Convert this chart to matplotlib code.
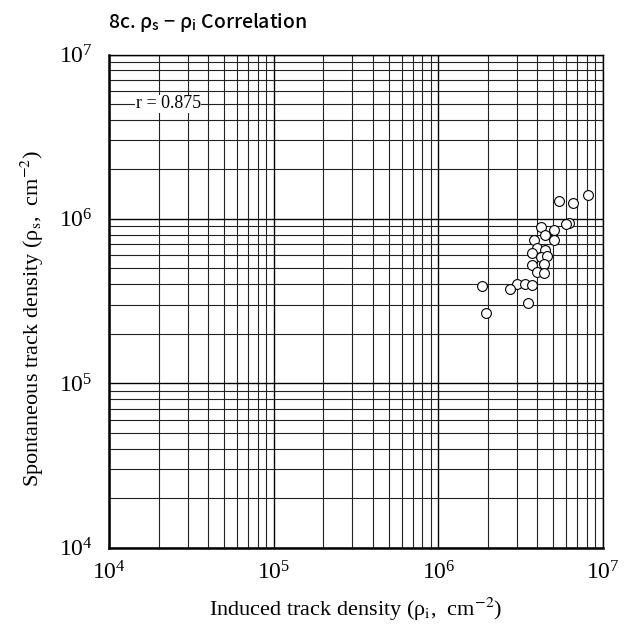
import numpy as np
import matplotlib
matplotlib.use("Agg")
import matplotlib.pyplot as plt
from matplotlib.ticker import LogLocator, NullFormatter

# induced track density (rho_i, cm^-2) and spontaneous track density (rho_s, cm^-2)
rho_i = [5.40e6, 6.53e6, 8.13e6, 6.21e6, 5.98e6, 4.22e6, 5.04e6, 4.46e6, 3.79e6,
         5.04e6, 3.95e6, 4.44e6, 3.68e6, 4.18e6, 4.55e6, 3.68e6, 4.38e6, 3.95e6,
         4.40e6, 1.84e6, 3.00e6, 3.37e6, 3.72e6, 2.71e6, 3.52e6, 1.96e6]
rho_s = [1.28e6, 1.25e6, 1.40e6, 9.48e5, 9.27e5, 8.89e5, 8.55e5, 7.98e5, 7.47e5,
         7.47e5, 6.62e5, 6.47e5, 6.18e5, 5.83e5, 5.94e5, 5.25e5, 5.33e5, 4.75e5,
         4.67e5, 3.89e5, 4.00e5, 4.04e5, 3.96e5, 3.73e5, 3.09e5, 2.67e5]

r_value = 0.875
title = r"8c. ρ${}_\mathregular{s}$ − ρ${}_\mathregular{i}$ Correlation"
xlabel = r"Induced track density (ρ${}_\mathrm{i}$,  cm$^{-2}$)"
ylabel = r"Spontaneous track density (ρ${}_\mathrm{s}$,  cm$^{-2}$)"

plt.rcParams['mathtext.fontset'] = 'stix'
plt.rcParams['font.family'] = ['Liberation Serif', 'DejaVu Serif']

W, H = 642, 631
fig = plt.figure(figsize=(W / 100, H / 100), dpi=100)
ax = fig.add_axes([109 / W, 1 - 547.5 / H, (603 - 109) / W, (547.5 - 54.5) / H])

ax.set_xscale('log')
ax.set_yscale('log')
ax.set_xlim(1e4, 1e7)
ax.set_ylim(1e4, 1e7)

# grid, major and minor
ax.xaxis.set_minor_locator(LogLocator(base=10, subs=np.arange(2, 10)))
ax.yaxis.set_minor_locator(LogLocator(base=10, subs=np.arange(2, 10)))
ax.xaxis.set_minor_formatter(NullFormatter())
ax.yaxis.set_minor_formatter(NullFormatter())
ax.grid(which='major', color='black', lw=1.0)
ax.grid(which='minor', color='#222222', lw=0.8)
ax.set_axisbelow(True)
ax.tick_params(which='both', length=0, labelsize=17)
ax.tick_params(axis='x', pad=10)
ax.tick_params(axis='y', pad=12)

for side in ['left', 'bottom']:
    ax.spines[side].set_linewidth(1.8)
for side in ['top', 'right']:
    ax.spines[side].set_linewidth(1.0)

ax.scatter(rho_i, rho_s, s=50, facecolor='white', edgecolor='black', lw=0.8, zorder=3)

ax.text(1.45e4, 5e6, f"r = {r_value}", fontsize=13, va='center', ha='left',
        bbox=dict(facecolor='white', edgecolor='none', pad=0.5), zorder=4)

ax.set_xlabel(xlabel, fontsize=16, labelpad=8)
ax.set_ylabel(ylabel, fontsize=16)
ax.yaxis.set_label_coords(-0.128, 0.465)

fig.text(108 / W, 1 - 22 / H, title, fontsize=14, va='center', ha='left',
         weight='medium', family=['Noto Sans CJK JP', 'DejaVu Sans'])

fig.savefig('out.png', dpi=100)
